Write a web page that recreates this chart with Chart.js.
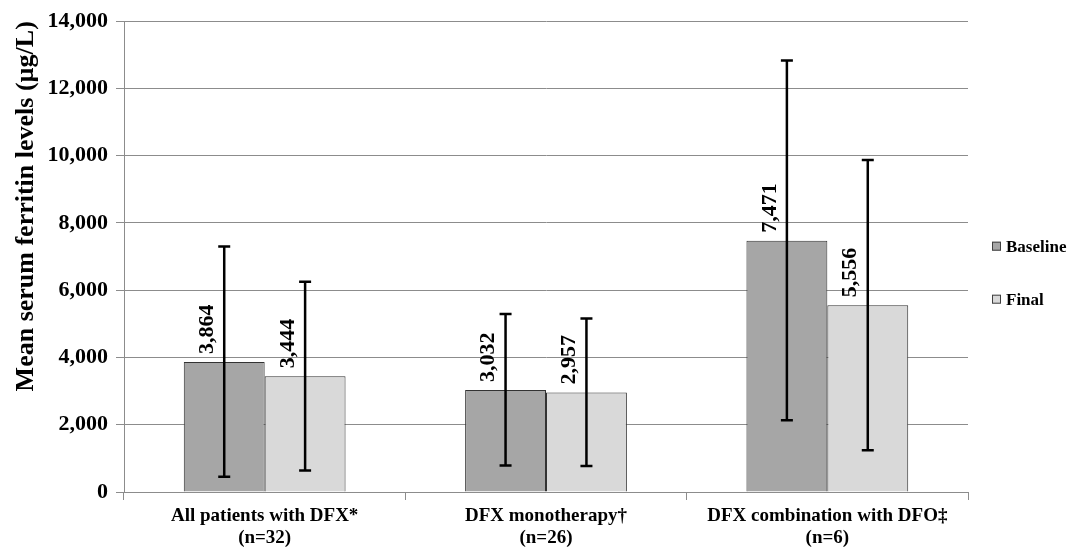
<!DOCTYPE html>
<html>
<head>
<meta charset="utf-8">
<script src="https://cdn.jsdelivr.net/npm/chart.js@4"></script>
<style>
  html, body { margin: 0; padding: 0; background: #ffffff; }
  #wrap { width: 1079px; height: 550px; }
</style>
</head>
<body>
<div id="wrap"><canvas id="chart" width="1079" height="550"></canvas></div>
<script>
// Patient groups (two-line category labels)
const categories = [
  ["All patients with DFX*", "(n=32)"],
  ["DFX monotherapy\u2020", "(n=26)"],
  ["DFX combination with DFO\u2021", "(n=6)"]
];
const seriesNames = ["Baseline", "Final"];

// Mean serum ferritin (µg/L) with error bar limits
const baselineMean  = [3864, 3032, 7471];
const baselineUpper = [7300, 5290, 12830];
const baselineLower = [450, 790, 2130];

const finalMean  = [3444, 2957, 5556];
const finalUpper = [6250, 5160, 9870];
const finalLower = [640, 770, 1240];

const yTicks = [0, 2000, 4000, 6000, 8000, 10000, 12000, 14000];

const serif = "'Liberation Serif', 'Times New Roman', serif";

// Rotated value labels above each bar
const valueLabels = {
  id: 'valueLabels',
  afterDatasetsDraw(chart) {
    const { ctx } = chart;
    chart.data.datasets.forEach((ds, i) => {
      const meta = chart.getDatasetMeta(i);
      meta.data.forEach((bar, j) => {
        ctx.save();
        ctx.translate(bar.x - 17, bar.y - 8);
        ctx.rotate(-Math.PI / 2);
        ctx.font = "bold 22px " + serif;
        ctx.fillStyle = '#000';
        ctx.textAlign = 'left';
        ctx.textBaseline = 'middle';
        ctx.fillText(ds.data[j].toLocaleString('en-US'), 0, 0);
        ctx.restore();
      });
    });
  }
};

// Vertical error bars with caps
const errorBars = {
  id: 'errorBars',
  afterDatasetsDraw(chart) {
    const { ctx } = chart;
    const y = chart.scales.y;
    chart.data.datasets.forEach((ds, i) => {
      const meta = chart.getDatasetMeta(i);
      meta.data.forEach((bar, j) => {
        const top = y.getPixelForValue(ds.errUpper[j]);
        const bot = y.getPixelForValue(ds.errLower[j]);
        ctx.save();
        ctx.strokeStyle = '#000';
        ctx.lineWidth = 2.5;
        ctx.beginPath();
        ctx.moveTo(bar.x, top); ctx.lineTo(bar.x, bot);
        ctx.moveTo(bar.x - 6, top); ctx.lineTo(bar.x + 6, top);
        ctx.moveTo(bar.x - 6, bot); ctx.lineTo(bar.x + 6, bot);
        ctx.stroke();
        ctx.restore();
      });
    });
  }
};

// Legend at the right of the plot
const sideLegend = {
  id: 'sideLegend',
  afterDraw(chart, args, opts) {
    const { ctx, chartArea } = chart;
    const x = chartArea.right + opts.offsetX;
    chart.data.datasets.forEach((ds, i) => {
      const cy = chartArea.top + opts.firstY + i * opts.spacing;
      ctx.save();
      ctx.fillStyle = ds.backgroundColor;
      ctx.strokeStyle = '#404040';
      ctx.lineWidth = 1;
      ctx.fillRect(x, cy - 4.5, 9, 9);
      ctx.strokeRect(x + 0.5, cy - 4, 8, 8);
      ctx.font = "bold 17px " + serif;
      ctx.fillStyle = '#000';
      ctx.textAlign = 'left';
      ctx.textBaseline = 'middle';
      ctx.fillText(ds.label, x + 14, cy + 1);
      ctx.restore();
    });
  }
};

new Chart(document.getElementById('chart'), {
  type: 'bar',
  data: {
    labels: categories,
    datasets: [
      {
        label: seriesNames[0],
        data: baselineMean,
        errUpper: baselineUpper,
        errLower: baselineLower,
        backgroundColor: '#a6a6a6',
        borderColor: '#333333',
        borderWidth: 1
      },
      {
        label: seriesNames[1],
        data: finalMean,
        errUpper: finalUpper,
        errLower: finalLower,
        backgroundColor: '#d9d9d9',
        borderColor: '#333333',
        borderWidth: 1
      }
    ]
  },
  options: {
    responsive: false,
    animation: false,
    devicePixelRatio: 1,
    layout: { padding: { top: 20, right: 111, bottom: 0, left: 0 } },
    datasets: { bar: { categoryPercentage: 0.575, barPercentage: 1.0 } },
    plugins: {
      legend: { display: false },
      tooltip: { enabled: false },
      sideLegend: { offsetX: 24, firstY: 225, spacing: 53 }
    },
    scales: {
      x: {
        offset: true,
        grid: { offset: true, drawOnChartArea: false, tickLength: 8, color: '#8c8c8c' },
        border: { display: true, color: '#8c8c8c' },
        ticks: {
          color: '#000',
          font: { family: serif, size: 19, weight: 'bold', lineHeight: 1.15 },
          padding: 5,
          maxRotation: 0,
          autoSkip: false
        },
        afterFit(scale) { scale.height = 58; }
      },
      y: {
        min: yTicks[0],
        max: yTicks[yTicks.length - 1],
        ticks: {
          stepSize: yTicks[1] - yTicks[0],
          color: '#000',
          font: { family: serif, size: 22, weight: 'bold' },
          padding: 8,
          callback: (v) => v.toLocaleString('en-US')
        },
        grid: { color: '#8c8c8c', tickLength: 8 },
        border: { display: true, color: '#8c8c8c' },
        title: {
          display: true,
          text: 'Mean serum ferritin levels (\u00b5g/L)',
          align: 'end',
          color: '#000',
          font: { family: serif, size: 26, weight: 'bold' },
          padding: { top: 11, bottom: 0 }
        },
        afterFit(scale) { scale.width = 124; }
      }
    }
  },
  plugins: [valueLabels, errorBars, sideLegend]
});
</script>
</body>
</html>
